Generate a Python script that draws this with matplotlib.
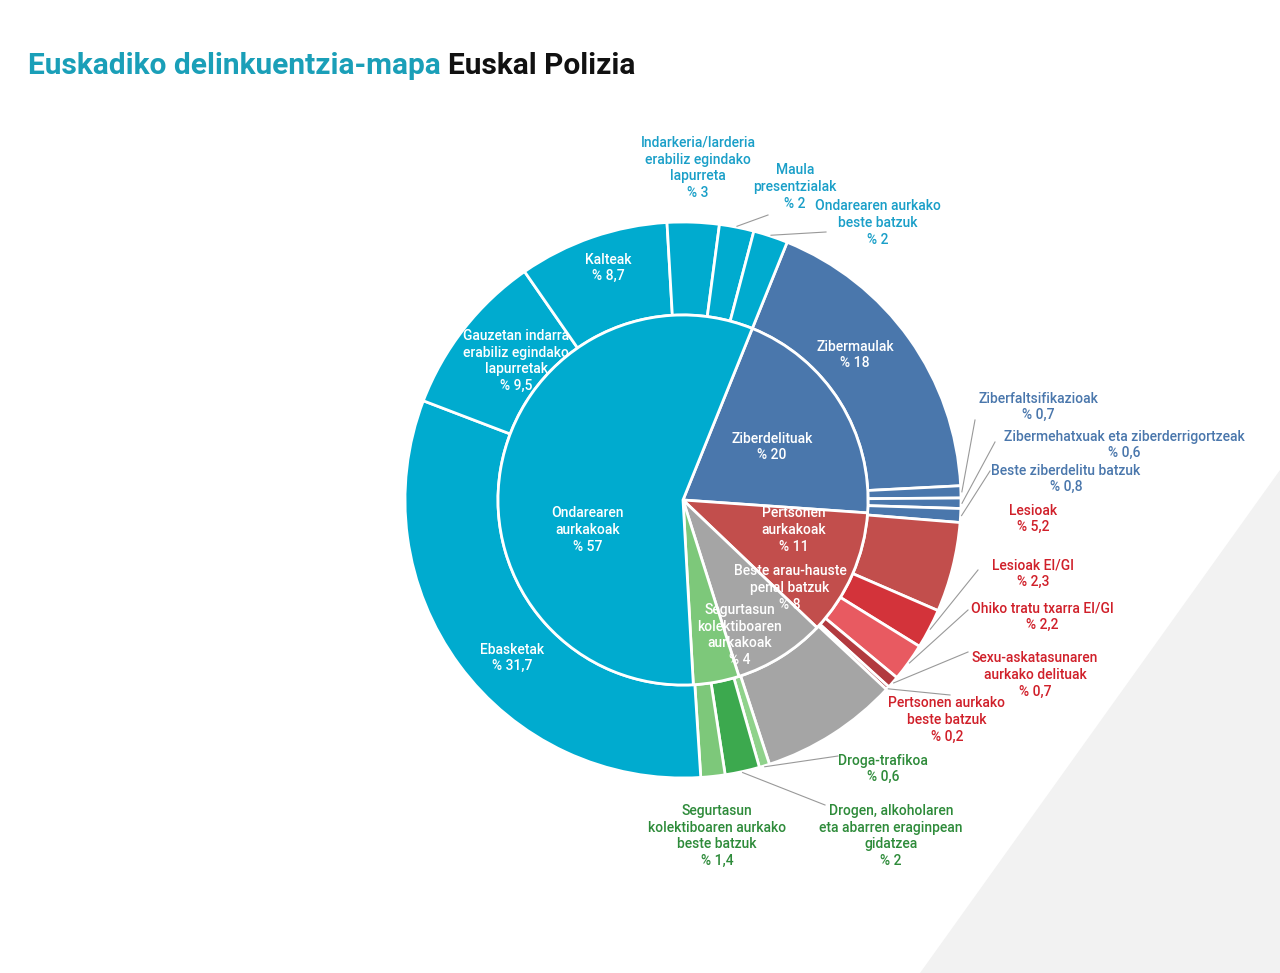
import matplotlib
matplotlib.use("Agg")
import matplotlib.pyplot as plt
from matplotlib.patches import Polygon
import numpy as np

# ---- data (clockwise order) ----
groups = ["Ziberdelituak", "Pertsonen aurkakoak", "Beste arau-hauste penal batzuk",
          "Segurtasun kolektiboaren aurkakoak", "Ondarearen aurkakoak"]
group_values = [20, 11, 8, 4, 57]
sub_labels = ["Zibermaulak", "Ziberfaltsifikazioak", "Zibermehatxuak eta ziberderrigortzeak",
              "Beste ziberdelitu batzuk",
              "Lesioak", "Lesioak EI/GI", "Ohiko tratu txarra EI/GI",
              "Sexu-askatasunaren aurkako delituak", "Pertsonen aurkako beste batzuk",
              "Beste arau-hauste penal batzuk",
              "Droga-trafikoa", "Drogen, alkoholaren eta abarren eraginpean gidatzea",
              "Segurtasun kolektiboaren aurkako beste batzuk",
              "Ebasketak", "Gauzetan indarra erabiliz egindako lapurretak", "Kalteak",
              "Indarkeria/larderia erabiliz egindako lapurreta", "Maula presentzialak",
              "Ondarearen aurkako beste batzuk"]
sub_values = [18, 0.7, 0.6, 0.8,
              5.2, 2.3, 2.2, 0.7, 0.2,
              8,
              0.6, 2, 1.4,
              31.7, 9.5, 8.7, 3, 2, 2]

CYAN = "#00ABCF"; BLUE = "#4A77AC"; RED = "#C24E4C"; GRAY = "#A5A5A5"; GREEN = "#7DC87A"
group_colors = [BLUE, RED, GRAY, GREEN, CYAN]
sub_colors = [BLUE]*4 + [RED, "#D3333A", "#E85A61", "#B23A3F", "#9E2F34"] + [GRAY] + \
             ["#8FD28B", "#3CA94E", GREEN] + [CYAN]*6

W, H = 1280, 973
fig = plt.figure(figsize=(12.8, 9.73), dpi=100)
fig.patch.set_facecolor("white")
ax = fig.add_axes([0, 0, 1, 1])

ax.add_patch(Polygon([(1280, 973-470), (1280, 0), (920, 0)], closed=True,
                     facecolor="#F2F2F2", edgecolor="none", zorder=0))

cx, cy = 683, H-500
R_out, R_in = 278, 185
start = 68
ax.pie(sub_values, radius=R_out, center=(cx, cy), startangle=start, counterclock=False,
       colors=sub_colors, wedgeprops=dict(width=R_out-R_in, edgecolor="white", linewidth=2),
       normalize=True)
ax.pie(group_values, radius=R_in, center=(cx, cy), startangle=start, counterclock=False,
       colors=group_colors, wedgeprops=dict(edgecolor="white", linewidth=2), normalize=True)
ax.set_xlim(0, W); ax.set_ylim(0, H); ax.set_aspect("equal"); ax.axis("off")

FONT = "Roboto"
def T(s, px, py, c, ha="center", size=10, w="medium"):
    ax.text(px, H-py, s, color=c, ha=ha, va="center", fontsize=size, family=FONT,
            fontweight=w, linespacing=1.25, zorder=5)

LC = "#1A9FC8"; LB = "#4A77AC"; LR = "#D0202A"; LG = "#2E8B3A"; WH = "white"
labels = [
    ("Indarkeria/larderia\nerabiliz egindako\nlapurreta\n% 3", 698, 168, LC),
    ("Maula\npresentzialak\n% 2", 795, 187, LC),
    ("Ondarearen aurkako\nbeste batzuk\n% 2", 878, 223, LC),
    ("Kalteak\n% 8,7", 608, 268, WH),
    ("Gauzetan indarra\nerabiliz egindako\nlapurretak\n% 9,5", 516, 361, WH),
    ("Ondarearen\naurkakoak\n% 57", 588, 530, WH),
    ("Ebasketak\n% 31,7", 512, 658, WH),
    ("Zibermaulak\n% 18", 855, 355, WH),
    ("Ziberdelituak\n% 20", 772, 447, WH),
    ("Ziberfaltsifikazioak\n% 0,7", 1038, 407, LB),
    ("Zibermehatxuak eta ziberderrigortzeak\n% 0,6", 1124, 445, LB),
    ("Beste ziberdelitu batzuk\n% 0,8", 1066, 479, LB),
    ("Pertsonen\naurkakoak\n% 11", 794, 530, WH),
    ("Beste arau-hauste\npenal batzuk\n% 8", 790, 588, WH),
    ("Segurtasun\nkolektiboaren\naurkakoak\n% 4", 740, 635, WH),
    ("Lesioak\n% 5,2", 1033, 519, LR),
    ("Lesioak EI/GI\n% 2,3", 1033, 574, LR),
    ("Ohiko tratu txarra EI/GI\n% 2,2", 1042, 617, LR),
    ("Sexu-askatasunaren\naurkako delituak\n% 0,7", 1035, 675, LR),
    ("Pertsonen aurkako\nbeste batzuk\n% 0,2", 947, 720, LR),
    ("Droga-trafikoa\n% 0,6", 883, 769, LG),
    ("Drogen, alkoholaren\neta abarren eraginpean\ngidatzea\n% 2", 891, 836, LG),
    ("Segurtasun\nkolektiboaren aurkako\nbeste batzuk\n% 1,4", 717, 836, LG),
]
for s, px, py, c in labels:
    T(s, px, py, c)

leader_ends = {1: (975, 420), 2: (995, 442), 3: (990, 471), 5: (978, 570),
               6: (968, 610), 7: (968, 652), 8: (950, 695), 10: (838, 756),
               11: (825, 805), 17: (768, 215), 18: (826, 232)}
tot = float(sum(sub_values))
cum = np.cumsum([0] + sub_values)
for i, (ex, ey) in leader_ends.items():
    mid = (cum[i] + cum[i+1]) / 2 / tot * 360
    ang = np.deg2rad(start - mid)
    sx = cx + (R_out + 1) * np.cos(ang); sy = cy + (R_out + 1) * np.sin(ang)
    ax.plot([sx, ex], [sy, H-ey], color="#999999", lw=0.8, zorder=4)

t1 = ax.text(28, H-66, "Euskadiko delinkuentzia-mapa", color="#1A9FB8", fontsize=21.5,
             family=FONT, fontweight="bold", va="center", ha="left")
fig.canvas.draw()
bb = t1.get_window_extent()
ax.text(bb.x1 + 7, H-66, "Euskal Polizia", color="#111111", fontsize=21.5,
        family=FONT, fontweight="bold", va="center", ha="left")

fig.savefig("out.png", dpi=100)
